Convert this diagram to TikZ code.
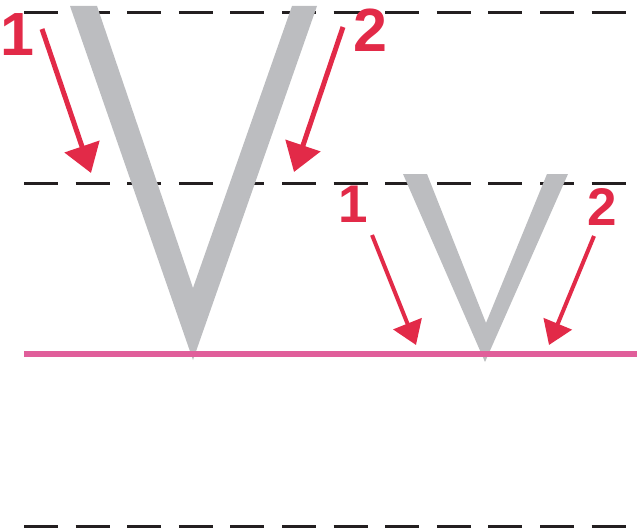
\documentclass[tikz,border=0pt]{standalone}
\usepackage{fontspec}
\setmainfont{Liberation Sans}
\usetikzlibrary{arrows.meta}
\definecolor{vgray}{RGB}{188,189,192}
\definecolor{guide}{RGB}{35,31,32}
\definecolor{base}{RGB}{224,94,154}
\definecolor{strokered}{RGB}{226,42,72}
\begin{document}
\begin{tikzpicture}[x=1pt, y=-1pt,
    guideline/.style={guide, line width=3pt, dash pattern=on 34pt off 17.6pt},
    letter/.style={fill=vgray, draw=none},
    num/.style={text=strokered, inner sep=0pt, font=\fontsize{61}{61}\selectfont\bfseries},
    smallnum/.style={num, font=\fontsize{53}{53}\selectfont\bfseries},
    bigarrow/.style={strokered, line width=5pt, -{Triangle[length=28pt 0 0, width=36pt 0 0]}},
    smallarrow/.style={strokered, line width=4pt, -{Triangle[length=23pt 0 0, width=30pt 0 0]}}]
    \useasboundingbox (0,0) rectangle (637,532);
    % writing lines
    \draw[guideline] (24,12.5) -- (626,12.5);
    \draw[guideline] (24,183) -- (626,183);
    \draw[guideline] (24,526) -- (626,526);
    % the two letters
    \fill[letter] (70,6) -- (97,6) -- (193,288) -- (292,6) -- (317,6) -- (193,360) -- cycle;
    \fill[letter] (403,174) -- (427,174) -- (486,323) -- (547,174) -- (568,174) -- (485,362) -- cycle;
    \draw[base, line width=5.5pt] (24,354) -- (637,354);
    % labels and strokes
    \node[num] (b1) at (17,35) {1};
    \node[num] (b2) at (370,30) {2};
    \node[smallnum] (s1) at (353,204) {1};
    \node[smallnum] (s2) at (602,207) {2};
    \coordinate (b1from) at (42,29);
    \coordinate (b1to) at (91,173);
    \coordinate (b2from) at (343,27);
    \coordinate (b2to) at (294,172);
    \coordinate (s1from) at (372,235);
    \coordinate (s1to) at (416,345);
    \coordinate (s2from) at (594,236);
    \coordinate (s2to) at (549,345);
    \draw[bigarrow] (b1from) -- (b1to);
    \draw[bigarrow] (b2from) -- (b2to);
    \draw[smallarrow] (s1from) -- (s1to);
    \draw[smallarrow] (s2from) -- (s2to);
\end{tikzpicture}
\end{document}
